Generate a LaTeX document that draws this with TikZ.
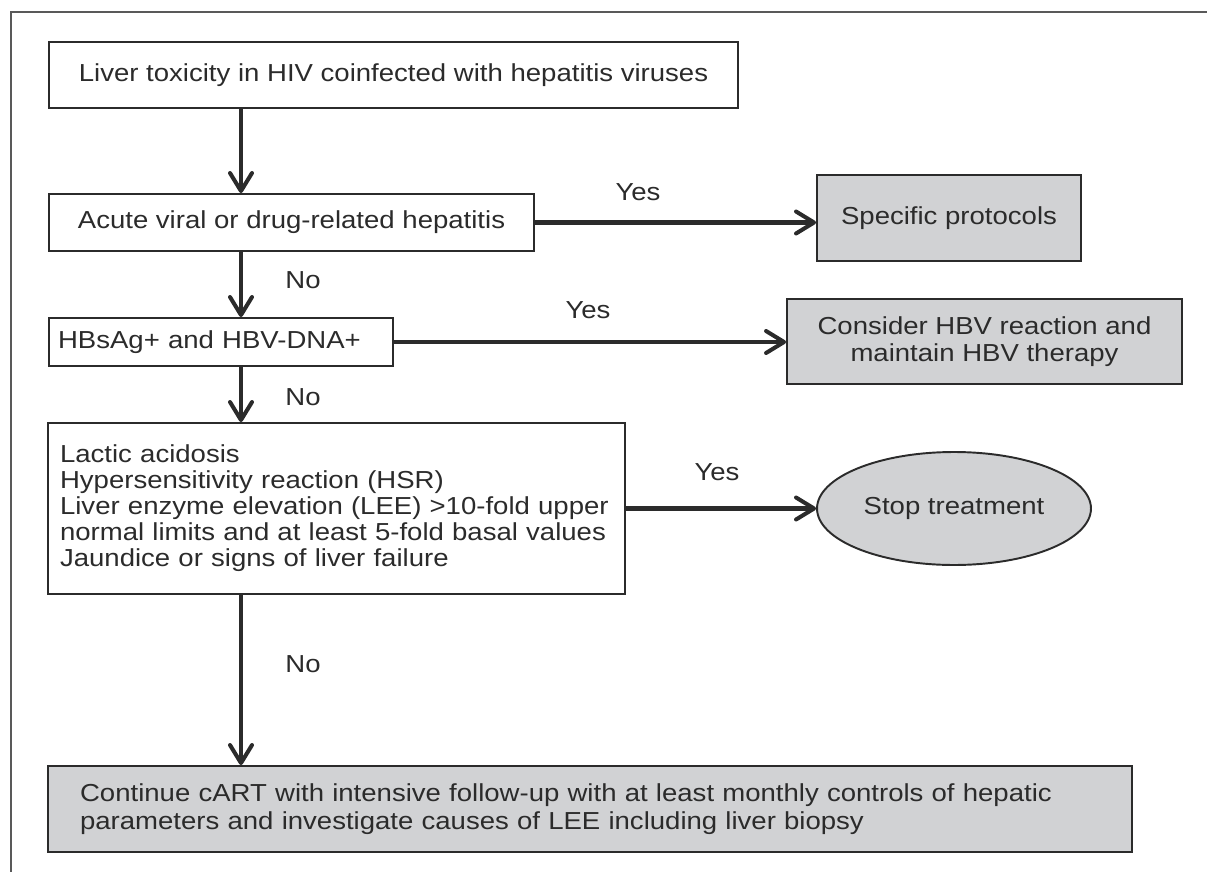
\documentclass[tikz,border=0pt]{standalone}
\usepackage{fontspec}
\setmainfont{Liberation Sans}[FakeStretch=1.12]
\usetikzlibrary{arrows.meta}
\usetikzlibrary{shapes}
\definecolor{kgrau}{HTML}{D1D2D4}
\definecolor{rand}{HTML}{2B2B2B}

\begin{document}
\begin{tikzpicture}[x=0.02cm,y=-0.02cm,>={Straight Barb[length=3.6mm,width=4.4mm,round]},every edge/.style={draw=rand,line width=2.3pt},every node/.style={font=\fontsize{14pt}{15.4pt}\selectfont,text=rand}]
        \useasboundingbox (0,0) rectangle (1207,872);
        \draw[gray!70!black, line width=0.9pt] (11,872) -- (11,12) -- (1207,12);

        \node[draw=rand, line width=1.1pt, rectangle, minimum width=13.78cm, minimum height=1.32cm] (W) at (393.5,75) {Liver toxicity in HIV coinfected with hepatitis viruses};

        \node[draw=rand, line width=1.1pt, rectangle, minimum width=9.7cm, minimum height=1.14cm] (B) at (291.5,222.5) {Acute viral or drug-related hepatitis};

        \node[draw=rand, line width=1.1pt, rectangle, minimum height=0.96cm, text width=6.52cm, inner xsep=0.18cm, align=left] (H) at (221,342) {HBsAg+ and HBV-DNA+};

        \node[draw=rand, line width=1.1pt, rectangle, minimum height=3.42cm, text width=11.06cm, inner xsep=0.24cm, align=left, font=\fontsize{14pt}{14.8pt}\selectfont] (L) at (336.5,508.5) {Lactic acidosis\\Hypersensitivity reaction (HSR)\\Liver enzyme elevation (LEE) >10-fold upper\\normal limits and at least 5-fold basal values\\Jaundice or signs of liver failure};

        \node[draw=rand, line width=1.1pt, rectangle, fill=kgrau, minimum width=5.28cm, minimum height=1.72cm] (S) at (949,218) {Specific protocols};

        \node[draw=rand, line width=1.1pt, rectangle, fill=kgrau, minimum width=7.9cm, minimum height=1.7cm, align=center] (C) at (984.5,341.5) {Consider HBV reaction and\\maintain HBV therapy};

        \node[draw=rand, line width=1.1pt, ellipse, fill=kgrau, minimum width=5.48cm, minimum height=2.26cm, inner sep=0pt] (T) at (954,508.5) {Stop treatment};

        \node[draw=rand, line width=1.1pt, rectangle, fill=kgrau, minimum height=1.72cm, text width=20.4cm, inner xsep=0.64cm, align=left, font=\fontsize{14pt}{15.9pt}\selectfont] (F) at (590,809) {Continue cART with intensive follow-up with at least monthly controls of hepatic\\parameters and investigate causes of LEE including liver biopsy};

        \node (Y1) at (638,192) {Yes};
        \node (Y2) at (588,310) {Yes};
        \node (Y3) at (717,472) {Yes};
        \node (N1) at (303,280) {No};
        \node (N2) at (303,397) {No};
        \node (N3) at (303,664) {No};

        \coordinate (ax) at (241,0);

        \path [->](W.south -| ax) edge (B.north -| ax);
        \path [->](B.south -| ax) edge (H.north -| ax);
        \path [->](H.south -| ax) edge (L.north -| ax);
        \path [->](L.south -| ax) edge (F.north -| ax);

        \path [->](B) edge (S.west |- B);
        \path [->](H) edge (C.west |- H);
        \path [->](L) edge (T);

    \end{tikzpicture}
\end{document}
